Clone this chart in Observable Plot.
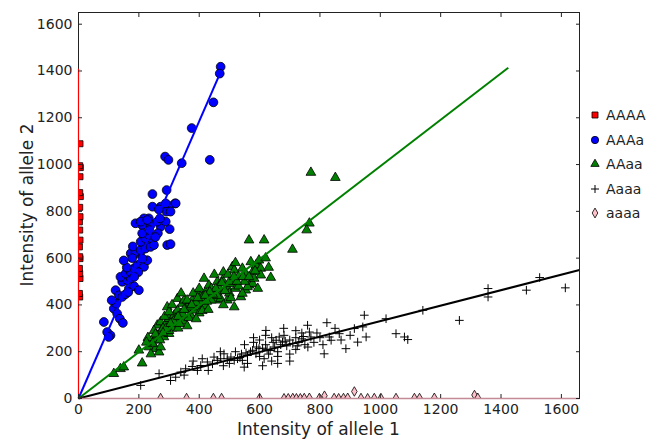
<!DOCTYPE html>
<html><head><meta charset="utf-8">
<script src="https://cdn.jsdelivr.net/npm/d3@7"></script>
<script src="https://cdn.jsdelivr.net/npm/@observablehq/plot@0.6"></script>
<style>
body{margin:0;background:#fff;font-family:"DejaVu Sans",sans-serif;}
#wrap{position:relative;width:659px;height:440px;overflow:hidden;}
#wrap svg{position:absolute;left:0;top:0;}
.lab{position:absolute;font-size:17px;line-height:17px;color:#222;white-space:nowrap;}
#legend{position:absolute;left:588px;top:103px;font-size:14px;color:#222;}
#legend div{height:24.5px;display:flex;align-items:center;}
#legend svg{position:static;margin-right:4px;}
</style></head><body><div id="wrap"></div>
<script>
const xTicks = [0, 200, 400, 600, 800, 1000, 1200, 1400, 1600];
const yTicks = [0, 200, 400, 600, 800, 1000, 1200, 1400, 1600];
const genotypes = ["AAAA", "AAAa", "AAaa", "Aaaa", "aaaa"];

const AAAA = [[4,434],[3,449],[5,513],[4,534],[3,556],[5,598],[4,606],[3,648],[5,677],[4,720],[3,755],[5,777],[4,817],[6,863],[4,880],[5,948],[6,987],[4,995],[5,1089]];

const AAAa = [[471,1418],[468,1389],[447,1266],[375,1156],[287,1034],[298,1020],[342,1006],[435,1020],[292,891],[245,874],[320,834],[245,820],[272,820],[300,823],[292,799],[305,799],[217,770],[189,749],[233,770],[211,741],[239,741],[272,734],[289,756],[302,724],[263,706],[222,670],[239,670],[217,648],[294,656],[305,660],[195,620],[206,627],[84,327],[95,284],[106,270],[100,263],[117,384],[128,363],[137,341],[147,323],[123,463],[134,441],[145,434],[156,446],[167,470],[184,480],[200,463],[145,499],[161,506],[173,513],[139,520],[156,534],[173,541],[184,556],[195,570],[206,577],[217,563],[228,591],[173,620],[189,627],[206,634],[222,641],[239,648],[250,656],[206,756],[228,763],[261,756],[206,670],[222,684],[233,699],[211,706],[322,834],[289,834],[266,808],[160,560],[150,590],[178,600],[198,540],[212,598],[125,405],[110,420],[165,455],[185,520],[235,720],[255,690],[270,770],[180,650]];

const AAaa = [[117,106],[139,127],[150,134],[211,151],[200,206],[234,220],[256,213],[267,198],[272,220],[250,249],[261,270],[272,284],[283,263],[300,277],[261,313],[272,327],[289,320],[300,341],[317,356],[328,377],[294,391],[328,427],[344,406],[361,391],[377,420],[394,449],[405,434],[421,456],[322,341],[339,363],[355,377],[372,356],[383,377],[394,391],[405,406],[416,513],[432,484],[460,499],[477,506],[493,477],[505,491],[516,506],[455,420],[471,427],[493,420],[516,391],[538,434],[554,463],[565,484],[577,491],[594,470],[510,563],[516,548],[543,556],[571,584],[594,570],[577,541],[565,677],[615,677],[770,966],[851,944],[765,749],[756,720],[709,637],[588,570],[598,591],[604,556],[582,513],[604,527],[637,517],[560,477],[543,449],[230,260],[245,235],[280,300],[310,300],[285,350],[350,330],[365,345],[400,365],[420,395],[440,420],[350,420],[380,450],[440,470],[470,460],[500,450],[520,470],[530,520],[450,530],[400,470],[360,310],[330,300],[300,290],[390,340],[410,375],[430,380],[460,440],[480,400],[505,430],[530,480],[550,500],[480,540],[360,420],[300,370],[340,450],[310,400],[250,290],[620,600],[630,560],[555,530],[520,580],[270,250],[240,190],[225,240],[255,275],[290,300],[315,330],[335,320],[345,360],[370,390],[390,410],[410,430],[425,415],[445,445],[465,475],[485,460],[500,500],[525,500],[545,520],[565,520],[585,545],[375,400],[395,430],[350,380],[330,350],[305,320],[280,280],[455,470],[475,495],[495,530],[515,520],[435,455],[420,440]];

const Aaaa = [[206,56],[267,106],[305,77],[322,91],[339,113],[355,127],[377,137],[394,120],[405,141],[427,156],[444,148],[449,177],[460,163],[471,170],[482,191],[493,170],[505,177],[516,163],[527,170],[543,163],[549,134],[577,206],[598,213],[560,184],[588,191],[621,291],[681,270],[665,263],[655,249],[676,241],[759,313],[765,284],[770,263],[823,324],[831,263],[837,249],[814,191],[864,277],[886,213],[914,299],[947,356],[942,306],[953,263],[925,241],[1019,341],[1052,277],[1080,263],[1091,252],[1141,377],[1262,334],[1357,470],[1357,434],[1484,463],[1528,517],[1613,473],[570,200],[590,220],[610,215],[620,230],[635,205],[645,240],[600,180],[615,170],[630,190],[650,220],[660,200],[670,230],[690,225],[700,250],[710,235],[720,260],[730,240],[740,255],[750,230],[600,250],[580,240],[540,190],[520,200],[500,150],[480,140],[470,200],[430,120],[410,170],[380,160],[350,100],[560,150],[610,140],[640,160],[660,180],[700,190],[720,210],[760,220],[780,240],[800,260],[790,280],[810,230],[850,300],[870,250],[900,270],[680,300],[720,290],[640,260],[620,270],[550,230],[580,260],[700,160],[660,150],[740,280],[535,175],[555,195],[625,210],[685,245],[725,225],[745,265]];

const aaaa = [[272,2],[358,2],[447,2],[474,2],[600,2],[681,1],[695,1],[710,2],[722,1],[735,1],[748,2],[765,3],[798,2],[815,12],[847,2],[862,1],[878,2],[892,3],[914,30],[936,2],[958,1],[980,2],[1002,2],[1052,2],[1113,2],[1130,2],[1179,3],[1312,15],[1323,3]];

// fitted lines: [genotype, x1, y1, x2, y2]
const fits = [["AAAA",0,0,0,1410],["AAAa",0,0,465,1378],["AAaa",0,0,1424,1414],["Aaaa",0,0,1660,549],["aaaa",0,0,1660,0]];

const fillOf = {AAAA:"#ff0000", AAAa:"#0000ff", AAaa:"#008000", Aaaa:"#000000", aaaa:"#ffc0cb"};
const lineOf = {AAAA:"#ff0000", AAAa:"#0000ff", AAaa:"#008000", Aaaa:"#000000", aaaa:"#c48a95"};
const lineW = {AAAA:1.2, AAAa:2, AAaa:2, Aaaa:2, aaaa:1.6};

const toRows = (arr) => arr.map(([x, y]) => ({x, y}));
const fitRows = fits.map(([g, x1, y1, x2, y2]) => ({g, x1, y1, x2, y2}));
const mainFits = fitRows.filter(d => d.g === "AAAa" || d.g === "AAaa" || d.g === "Aaaa");
const edgeFits = fitRows.filter(d => d.g === "AAAA" || d.g === "aaaa");
const fmt = d => String(d);

const chart = Plot.plot({
  width: 659, height: 440,
  marginLeft: 78, marginRight: 80, marginTop: 12, marginBottom: 42,
  style: {fontFamily: "DejaVu Sans", fontSize: "14px", color: "#222", background: "transparent"},
  x: {domain: [0, 1660]},
  y: {domain: [0, 1650]},
  marks: [
    Plot.dot(toRows(AAAA), {x: "x", y: "y", symbol: "square", r: 3.4, fill: fillOf.AAAA, stroke: "black", strokeWidth: 0.8, clip: true}),
    Plot.dot(toRows(aaaa), {x: "x", y: "y", symbol: "diamond", r: 2.9, fill: fillOf.aaaa, stroke: "black", strokeWidth: 0.8, clip: true}),
    Plot.dot(toRows(Aaaa), {x: "x", y: "y", symbol: "plus", r: 2.9, stroke: "black", strokeWidth: 1, clip: true}),
    Plot.dot(toRows(AAaa), {x: "x", y: "y", symbol: "triangle", r: 3.6, fill: fillOf.AAaa, stroke: "black", strokeWidth: 0.8, clip: true}),
    Plot.dot(toRows(AAAa), {x: "x", y: "y", symbol: "circle", r: 4.4, fill: fillOf.AAAa, stroke: "black", strokeWidth: 0.8, clip: true}),
    Plot.link(mainFits, {x1: "x1", y1: "y1", x2: "x2", y2: "y2", stroke: d => lineOf[d.g], strokeWidth: d => lineW[d.g]}),
    Plot.frame({stroke: "#222", strokeWidth: 1}),
    Plot.link(edgeFits, {x1: "x1", y1: "y1", x2: "x2", y2: "y2", stroke: d => lineOf[d.g], strokeWidth: d => lineW[d.g]}),
    Plot.axisX({anchor: "bottom", ticks: xTicks, tickFormat: fmt, tickSize: -4, tickPadding: 10, label: null, stroke: "#222"}),
    Plot.axisX({anchor: "top", ticks: xTicks, tickSize: -4, tickFormat: () => "", label: null, stroke: "#222"}),
    Plot.axisY({anchor: "left", ticks: yTicks, tickFormat: fmt, tickSize: -4, tickPadding: 10, label: null, stroke: "#222"}),
    Plot.axisY({anchor: "right", ticks: yTicks, tickSize: -4, tickFormat: () => "", label: null, stroke: "#222"})
  ]
});

const wrap = document.getElementById("wrap");
wrap.appendChild(chart);

const xl = document.createElement("div");
xl.className = "lab"; xl.textContent = "Intensity of allele 1";
xl.style.left = "237px"; xl.style.top = "421px";
wrap.appendChild(xl);

const yl = document.createElement("div");
yl.className = "lab"; yl.textContent = "Intensity of allele 2";
yl.style.left = "27px"; yl.style.top = "205px";
yl.style.transform = "translate(-50%,-50%) rotate(-90deg)";
wrap.appendChild(yl);

const symOf = {AAAA: d3.symbolSquare, AAAa: d3.symbolCircle, AAaa: d3.symbolTriangle, Aaaa: d3.symbolCross, aaaa: d3.symbolDiamond};
const sizeOf = {AAAA: 36, AAAa: 42, AAaa: 30, Aaaa: 0, aaaa: 28};
const legend = document.createElement("div");
legend.id = "legend";
for (const g of genotypes) {
  const row = document.createElement("div");
  let shape;
  if (g === "Aaaa") {
    shape = `<path d="M-4,0H4M0,-4V4" stroke="black" stroke-width="1" fill="none"/>`;
  } else {
    shape = `<path d="${d3.symbol(symOf[g], sizeOf[g])()}" fill="${fillOf[g]}" stroke="black" stroke-width="0.8"/>`;
  }
  row.innerHTML = `<svg width="14" height="14" viewBox="-7 -7 14 14">${shape}</svg><span>${g}</span>`;
  legend.appendChild(row);
}
wrap.appendChild(legend);
</script>
</body></html>
